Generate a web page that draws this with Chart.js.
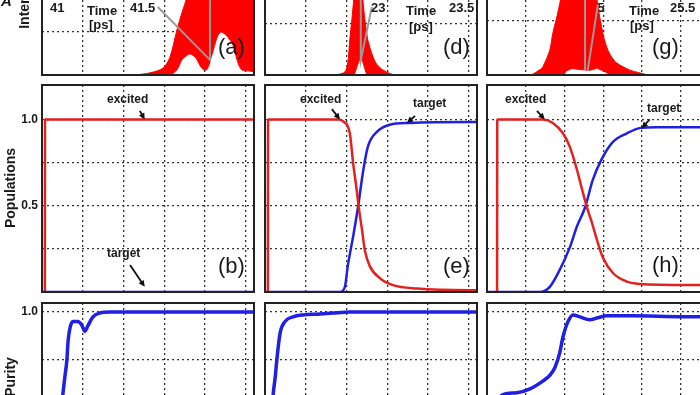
<!DOCTYPE html>
<html>
<head>
<meta charset="utf-8">
<script src="https://cdn.jsdelivr.net/npm/chart.js@4.4.0/dist/chart.umd.min.js"></script>
<style>
  html, body { margin: 0; padding: 0; background: #fff; }
  body { position: relative; width: 700px; height: 395px; overflow: hidden; }
  .panel { position: absolute; }
  .panel canvas { display: block; }
  .lbl { position: absolute; font-family: 'Liberation Sans', Arial, sans-serif; font-weight: bold;
         font-size: 12px; line-height: 1; color: #1a1a1a; white-space: nowrap; }
  .ax { font-size: 13px; }
  .tag { position: absolute; font-family: 'Liberation Sans', Arial, sans-serif; font-size: 22px;
         line-height: 1; color: #1a1a1a; }
  .rot { position: absolute; font-family: 'Liberation Sans', Arial, sans-serif; font-weight: bold;
         font-size: 14px; line-height: 1; color: #1a1a1a; white-space: nowrap;
         transform: translate(-50%, -50%) rotate(-90deg); }
</style>
</head>
<body>

<!-- inset axis label partly hidden by the pulse of (g) -->
<span class="lbl ax" style="left:590px; top:1px;">25</span>

<div class="panel" id="pa"></div>
<div class="panel" id="pd"></div>
<div class="panel" id="pg"></div>
<div class="panel" id="pb"></div>
<div class="panel" id="pe"></div>
<div class="panel" id="ph"></div>
<div class="panel" id="pc"></div>
<div class="panel" id="pf"></div>
<div class="panel" id="pi"></div>

<!-- top row inset time axes -->
<span class="lbl ax" style="left:50px; top:1px;">41</span>
<span class="lbl ax" style="left:87px; top:4px;">Time</span>
<span class="lbl ax" style="left:89px; top:18px;">[ps]</span>
<span class="lbl ax" style="left:130px; top:1px;">41.5</span>
<span class="lbl ax" style="left:371px; top:1px;">23</span>
<span class="lbl ax" style="left:406px; top:4px;">Time</span>
<span class="lbl ax" style="left:409px; top:20px;">[ps]</span>
<span class="lbl ax" style="left:449px; top:1px;">23.5</span>
<span class="lbl ax" style="left:629px; top:4px;">Time</span>
<span class="lbl ax" style="left:630px; top:19px;">[ps]</span>
<span class="lbl ax" style="left:670px; top:1px;">25.5</span>

<span class="tag" style="left:218px; top:36px;">(a)</span>
<span class="tag" style="left:443px; top:36px;">(d)</span>
<span class="tag" style="left:652px; top:36px;">(g)</span>
<span class="tag" style="left:218px; top:255px;">(b)</span>
<span class="tag" style="left:443px; top:255px;">(e)</span>
<span class="tag" style="left:652px; top:254px;">(h)</span>

<span class="lbl" style="left:107px; top:93px;">excited</span>
<span class="lbl" style="left:107px; top:247px;">target</span>
<span class="lbl" style="left:300px; top:93px;">excited</span>
<span class="lbl" style="left:413px; top:97px;">target</span>
<span class="lbl" style="left:505px; top:93px;">excited</span>
<span class="lbl" style="left:647px; top:102px;">target</span>

<span class="rot" style="left:24px; top:0px;">Intensity</span>
<span class="rot" style="left:10px; top:188px;">Populations</span>
<span class="rot" style="left:10px; top:377px;">Purity</span>
<span class="lbl" style="left:1px; top:-7px; font-size:15px; font-style:italic;">A</span>

<script>
// (a) (d) (g) pulse intensity: upper and lower edge of the red band
const timeA = [2.30, 2.65, 2.97, 3.14, 3.31, 3.43, 3.55, 3.63, 3.77, 3.92, 4.04, 4.17, 4.29, 4.39, 4.53, 4.68, 4.80, 4.90, 5.10, 5.20];
const upperA = [0, 0.05, 0.16, 0.42, 1.05, 1.44, 1.80, 2.30, 2.60, 2.60, 2.60, 2.60, 2.60, 2.60, 2.60, 2.60, 2.60, 2.60, 2.60, 2.60];
const lowerA = [0, 0, 0, 0, 0.12, 0.35, 0.45, 0.49, 0.40, 0.16, 0.12, 0.47, 0.86, 1.00, 0.91, 0.70, 0.30, 0.12, 0.09, 0.07];

const timeD = [1.75, 1.96, 2.03, 2.08, 2.13, 2.18, 2.23, 2.28, 2.35, 2.40, 2.45, 2.50, 2.52, 2.65, 2.75, 2.89, 3.06, 3.19];
const upperD = [0, 0.06, 0.24, 0.69, 1.08, 1.50, 1.90, 2.20, 2.20, 1.50, 1.08, 0.80, 0.69, 0.35, 0.20, 0.10, 0.03, 0];
const lowerD = [0, 0, 0, 0, 0, 0, 0.10, 0.22, 0.33, 0.25, 0.12, 0, 0, 0, 0, 0, 0, 0];

const timeG = [1.15, 1.37, 1.44, 1.62, 1.70, 1.80, 1.88, 1.96, 2.06, 2.14, 2.19, 2.40, 2.60, 2.65, 2.78, 2.84, 2.91, 2.99, 3.02, 3.12, 3.22, 3.35, 3.69, 3.94, 4.15];
const upperG = [0, 0.10, 0.15, 0.46, 0.78, 1.07, 1.33, 1.60, 1.85, 1.95, 2.00, 2.05, 2.00, 2.00, 1.70, 1.39, 1.07, 0.78, 0.68, 0.46, 0.33, 0.22, 0.09, 0.04, 0];
const lowerG = [0, 0, 0, 0, 0, 0, 0, 0, 0.08, 0.10, 0.12, 0.10, 0.09, 0.09, 0.11, 0.13, 0.10, 0.08, 0.07, 0.03, 0, 0, 0, 0, 0];

// (b) (e) (h) populations
const timeExcB = [0.07, 0.075, 5.2];
const excitedB = [0, 1, 1];
const timeTarB = [0, 5.2];
const targetB = [0, 0];

const timeExcE = [0.07, 0.075, 1.00, 1.80, 1.91, 2.08, 2.16, 2.25, 2.30, 2.38, 2.45, 2.57, 2.82, 3.14, 3.73, 5.02, 5.20];
const excitedE = [0, 1, 1, 1, 0.99, 0.92, 0.75, 0.59, 0.49, 0.36, 0.24, 0.15, 0.08, 0.04, 0.02, 0.01, 0.01];
const timeTarE = [0, 1.84, 1.96, 2.03, 2.16, 2.28, 2.40, 2.52, 2.75, 3.06, 3.55, 5.02, 5.20];
const targetE = [0, 0, 0.03, 0.15, 0.32, 0.49, 0.69, 0.84, 0.93, 0.97, 0.98, 0.985, 0.985];

const timeExcH = [0.26, 0.265, 1.44, 1.70, 1.96, 2.14, 2.32, 2.47, 2.58, 2.71, 2.84, 2.99, 3.25, 3.61, 3.94, 5.60];
const excitedH = [0, 1, 1, 0.98, 0.92, 0.84, 0.71, 0.58, 0.49, 0.40, 0.30, 0.20, 0.11, 0.06, 0.047, 0.04];
const timeTarH = [0, 1.37, 1.62, 1.88, 2.14, 2.32, 2.53, 2.73, 2.96, 3.25, 3.61, 3.94, 4.38, 5.60];
const targetH = [0, 0, 0.03, 0.13, 0.26, 0.38, 0.49, 0.65, 0.77, 0.87, 0.92, 0.95, 0.955, 0.955];

// (c) (f) (i) purity
const timePurC = [0.40, 0.51, 0.56, 0.61, 0.64, 0.69, 0.76, 0.88, 0.98, 1.05, 1.13, 1.25, 1.42, 1.67, 5.20];
const purityC = [0.35, 0.57, 0.66, 0.75, 0.85, 0.92, 0.95, 0.95, 0.93, 0.90, 0.93, 0.975, 0.995, 1.0, 1.0];
const timePurF = [0.12, 0.20, 0.25, 0.29, 0.37, 0.49, 0.69, 0.93, 1.35, 1.67, 2.08, 5.20];
const purityF = [0.30, 0.57, 0.66, 0.75, 0.89, 0.95, 0.975, 0.985, 0.99, 0.995, 1.0, 1.0];
const timePurI = [0.20, 0.41, 0.77, 1.11, 1.44, 1.62, 1.75, 1.88, 1.96, 2.09, 2.22, 2.40, 2.65, 2.86, 3.09, 3.76, 5.05, 5.60];
const purityI = [0.52, 0.57, 0.58, 0.60, 0.64, 0.67, 0.71, 0.79, 0.87, 0.95, 0.985, 0.975, 0.96, 0.97, 0.98, 0.98, 0.975, 0.975];

const RED = '#ff0000';
const LINE_RED = '#e3211f';
const LINE_BLUE = '#1f1fe6';

function pts(xs, ys) {
  return xs.map((x, i) => ({ x: x, y: ys[i] }));
}

// frame, gray leader lines and small arrows
const notes = {
  id: 'notes',
  afterDraw(chart, args, opts) {
    const ctx = chart.ctx;
    const sx = chart.scales.x, sy = chart.scales.y;
    const a = chart.chartArea;
    ctx.save();
    ctx.beginPath();
    ctx.rect(a.left, a.top, a.right - a.left, a.bottom - a.top);
    ctx.clip();
    (opts.leaders || []).forEach(l => {
      ctx.strokeStyle = '#9a9a9a';
      ctx.lineWidth = 2;
      ctx.beginPath();
      l.forEach((p, i) => {
        const px = sx.getPixelForValue(p[0]), py = sy.getPixelForValue(p[1]);
        if (i === 0) ctx.moveTo(px, py); else ctx.lineTo(px, py);
      });
      ctx.stroke();
    });
    (opts.arrows || []).forEach(r => {
      const x1 = sx.getPixelForValue(r[0]), y1 = sy.getPixelForValue(r[1]);
      const x2 = sx.getPixelForValue(r[2]), y2 = sy.getPixelForValue(r[3]);
      const ang = Math.atan2(y2 - y1, x2 - x1);
      ctx.strokeStyle = '#111';
      ctx.fillStyle = '#111';
      ctx.lineWidth = 1.8;
      ctx.beginPath();
      ctx.moveTo(x1, y1);
      ctx.lineTo(x2 - 4 * Math.cos(ang), y2 - 4 * Math.sin(ang));
      ctx.stroke();
      ctx.beginPath();
      ctx.moveTo(x2, y2);
      ctx.lineTo(x2 - 7 * Math.cos(ang - 0.45), y2 - 7 * Math.sin(ang - 0.45));
      ctx.lineTo(x2 - 7 * Math.cos(ang + 0.45), y2 - 7 * Math.sin(ang + 0.45));
      ctx.closePath();
      ctx.fill();
    });
    ctx.restore();
    ctx.save();
    ctx.strokeStyle = '#222';
    ctx.lineWidth = 2;
    ctx.strokeRect(a.left, a.top, a.right - a.left, a.bottom - a.top);
    ctx.restore();
  }
};

function panel(id, box, cfg) {
  const el = document.getElementById(id);
  el.style.left = box.left + 'px';
  el.style.top = box.top + 'px';
  const cv = document.createElement('canvas');
  cv.width = box.width;
  cv.height = box.height;
  el.appendChild(cv);

  const first = box.left === 0;
  new Chart(cv, {
    type: 'line',
    data: { datasets: cfg.datasets },
    options: {
      responsive: false,
      animation: false,
      events: [],
      layout: { padding: { left: first ? 0 : 2, right: 2, top: 2, bottom: 2 } },
      elements: { point: { radius: 0 } },
      plugins: {
        legend: { display: false },
        tooltip: { enabled: false },
        notes: { leaders: cfg.leaders, arrows: cfg.arrows }
      },
      scales: {
        x: {
          type: 'linear', min: 0, max: cfg.xMax,
          ticks: { display: false, stepSize: 1, includeBounds: false },
          grid: { color: '#333', lineWidth: 1.3, drawTicks: false },
          border: { display: false, dash: [2, 3] },
          afterFit(s) { s.height = 0; }
        },
        y: {
          min: 0, max: cfg.yMax,
          ticks: {
            display: !!cfg.yLabels, stepSize: cfg.yStep, padding: 4, includeBounds: false,
            color: '#1a1a1a',
            font: { family: "'Liberation Sans', Arial, sans-serif", size: 12, weight: 'bold' },
            callback: v => (cfg.yLabels && cfg.yLabels[v]) || ''
          },
          grid: { color: '#333', lineWidth: 1.3, drawTicks: false },
          border: { display: false, dash: [2, 3] },
          afterFit(s) { s.width = first ? 42 : 0; s.paddingTop = 0; s.paddingBottom = 0; }
        }
      }
    },
    plugins: [notes]
  });
}

function pulse(t, up, low) {
  return [
    { data: pts(t, up), fill: '+1', backgroundColor: RED, borderColor: RED, borderWidth: 1, tension: 0.3 },
    { data: pts(t, low), fill: false, borderColor: RED, borderWidth: 1, tension: 0.3 }
  ];
}
function popLine(t, v, color) {
  return { data: pts(t, v), borderColor: color, borderWidth: 2.5, cubicInterpolationMode: 'monotone', fill: false };
}
function purLine(t, v) {
  return { data: pts(t, v), borderColor: LINE_BLUE, borderWidth: 3.5, cubicInterpolationMode: 'monotone', fill: false };
}

const col1 = { left: 0, width: 256, xMax: 5.2 };
const col2 = { left: 263, width: 216, xMax: 5.2 };
const col3 = { left: 485, width: 221, xMax: 5.6 };
const row1 = { top: -42, height: 119 };
const row2 = { top: 83, height: 211 };
const row3 = { top: 301, height: 205 };

function box(c, r) { return { left: c.left, width: c.width, top: r.top, height: r.height }; }

const popTicks = { 1: '1.0', 0.5: '0.5' };
const purTicks = { 1: '1.0', 0.5: '0.5' };

// row 1: pulses
panel('pa', box(col1, row1), {
  xMax: col1.xMax, yMax: 2.67, yStep: 1, datasets: pulse(timeA, upperA, lowerA),
  leaders: [[[2.84, 1.58], [4.12, 0.35], [4.12, 2.7]]]
});
panel('pd', box(col2, row1), {
  xMax: col2.xMax, yMax: 2.25, yStep: 1, datasets: pulse(timeD, upperD, lowerD),
  leaders: [[[2.62, 1.33], [2.35, 0.29], [2.35, 2.3]]]
});
panel('pg', box(col3, row1), {
  xMax: col3.xMax, yMax: 2.13, yStep: 1, datasets: pulse(timeG, upperG, lowerG),
  leaders: [[[2.86, 1.30], [2.60, 0.09]], [[2.53, 2.2], [2.53, 0.09]]]
});

// row 2: populations
panel('pb', box(col1, row2), {
  xMax: col1.xMax, yMax: 1.2, yStep: 0.25, yLabels: popTicks,
  datasets: [popLine(timeTarB, targetB, LINE_BLUE), popLine(timeExcB, excitedB, LINE_RED)],
  arrows: [[2.40, 1.05, 2.52, 1.0], [2.16, 0.157, 2.52, 0.03]]
});
panel('pe', box(col2, row2), {
  xMax: col2.xMax, yMax: 1.2, yStep: 0.25,
  datasets: [popLine(timeExcE, excitedE, LINE_RED), popLine(timeTarE, targetE, LINE_BLUE)],
  arrows: [[1.64, 1.06, 1.84, 1.0], [3.68, 1.02, 3.48, 0.98]]
});
panel('ph', box(col3, row2), {
  xMax: col3.xMax, yMax: 1.2, yStep: 0.25,
  datasets: [popLine(timeExcH, excitedH, LINE_RED), popLine(timeTarH, targetH, LINE_BLUE)],
  arrows: [[1.29, 1.05, 1.49, 1.0], [4.20, 1.0, 3.99, 0.95]]
});

// row 3: purity
panel('pc', box(col1, row3), {
  xMax: col1.xMax, yMax: 1.047, yStep: 0.25, yLabels: purTicks, datasets: [purLine(timePurC, purityC)]
});
panel('pf', box(col2, row3), {
  xMax: col2.xMax, yMax: 1.047, yStep: 0.25, datasets: [purLine(timePurF, purityF)]
});
panel('pi', box(col3, row3), {
  xMax: col3.xMax, yMax: 1.047, yStep: 0.25, datasets: [purLine(timePurI, purityI)]
});
</script>
</body>
</html>
